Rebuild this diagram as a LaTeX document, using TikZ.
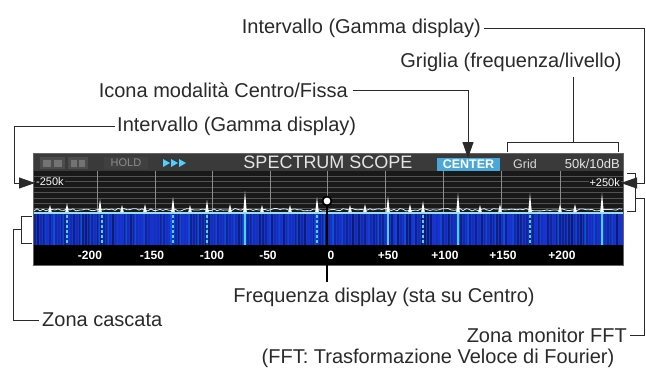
\documentclass[tikz,border=0pt]{standalone}
\usepackage{fontspec}
\setmainfont{Liberation Sans}
\newfontfamily\scrfont{Liberation Sans}
\usetikzlibrary{arrows.meta}
\definecolor{ink}{HTML}{2A2A2A}
\definecolor{hdr}{HTML}{3A3A3A}
\definecolor{wfblue}{HTML}{1834D0}
\definecolor{wfcyan}{HTML}{4FD0FF}
\definecolor{ctrblue}{HTML}{4AA8D8}
\tikzset{
  lbl/.style={inner sep=0pt, font=\fontsize{20}{22}\selectfont, text=ink},
  conn/.style={draw=ink, line width=0.9pt},
  arr/.style={conn, -{Triangle[length=16pt,width=11pt]}},
  scl/.style={inner sep=0pt, text=white, font=\scrfont\bfseries\fontsize{12}{13}\selectfont},
  tiny/.style={inner sep=0pt, font=\scrfont\fontsize{11}{12}\selectfont},
  grdh/.style={draw=white!32!black, line width=0.5pt},
  grdv/.style={draw=white!55!black, line width=0.5pt}
}
\begin{document}
\begin{tikzpicture}[x=1pt,y=-1pt]
\useasboundingbox (0,0) rectangle (646,370);
\fill[white] (0,0) rectangle (646,370);

% ---------- screen ----------
\fill[black!90] (33,153) rectangle (623,265);
\fill[hdr] (33,153) rectangle (623,171);
\draw[white!45!black, line width=0.8pt] (33,153.5) -- (623,153.5);
% header icons
\fill[white!30!black] (40,157) rectangle (65,169);
\fill[white!45!black] (43,160) rectangle (51,167);
\fill[white!45!black] (54,160) rectangle (62,167);
\fill[white!30!black] (68,157) rectangle (88,169);
\fill[white!45!black] (71,160) rectangle (77,167);
\fill[white!45!black] (79,160) rectangle (85,167);
\fill[white!25!black] (104,157) rectangle (148,169);
\node[tiny, text=white!55!black] (hold) at (126,163) {HOLD};
\foreach \x in {163,171,179}{\fill[wfcyan] (\x,159) -- (\x+7,163) -- (\x,167) -- cycle;}
\node[inner sep=0pt, text=white!90!black, font=\scrfont\fontsize{18}{19}\selectfont] (title) at (328,162.5) {SPECTRUM SCOPE};
\fill[ctrblue] (437,158) rectangle (500,171);
\node[inner sep=0pt, text=white, font=\scrfont\bfseries\fontsize{12.5}{13}\selectfont] (ctr) at (468.5,164.5) {CENTER};
\node[inner sep=0pt, text=white!85!black, font=\scrfont\fontsize{12.5}{13}\selectfont] (grid) at (525,164) {Grid};
\node[inner sep=0pt, text=white!90!black, font=\scrfont\fontsize{13}{14}\selectfont, anchor=east] (span) at (620,164) {50k/10dB};

% grid area
\foreach \y in {176,181.5,187,192.5,198,203.5,208.5}{\draw[grdh] (33,\y) -- (623,\y);}
\foreach \x in {97,155,212,270,327,385,443,501,560}{\draw[grdv] (\x,171) -- (\x,212);}
\node[tiny, text=white, anchor=west, fill=black!90, inner xsep=1pt] (lowk) at (35,182) {-250k};
\node[tiny, text=white, anchor=east, fill=black!90, inner xsep=1pt] (highk) at (621,183) {+250k};

% spectrum trace
\pgfmathsetseed{5}
\draw[white!85!cyan, line width=0.8pt] (34,211) \foreach \x in {37,40,...,622}{ -- (\x,{211-2.5*rnd}) };
\foreach \x/\t in {50/205,67/203,100/199,122/205,145/204,173/197,190/205,207/200,230/204,245/191,262/205,290/205,317/197,350/205,365/204,388/196,410/204,423/201,458/193,480/205,500/204,530/193,560/204,575/204,602/193}{
  \fill[white] (\x-1.8,212) -- (\x,\t) -- (\x+1.8,212) -- cycle;}

% waterfall
\fill[wfblue] (33,213) rectangle (623,245);
\pgfmathsetseed{11}
\foreach \x in {34,37,...,620}{\pgfmathsetmacro\op{0.5*rnd}\fill[black,opacity=\op] (\x,213) rectangle (\x+1.6,245);}
\pgfmathsetseed{23}
\foreach \x in {35,44,...,615}{\pgfmathsetmacro\op{0.4*rnd}\fill[blue!50!cyan,opacity=\op] (\x,213) rectangle (\x+1.5,245);}
\draw[white!60!cyan, line width=1.4pt] (33,213) -- (623,213);
\foreach \x in {245,388,458,602}{\draw[wfcyan, line width=1.6pt] (\x,214) -- (\x,245);}
\foreach \x in {67,102,173,207,317,423,530}{\draw[wfcyan, line width=1.4pt, dash pattern=on 3pt off 2pt] (\x,215) -- (\x,245);}

% scale bar
\fill[black] (33,245) rectangle (623,265);
\foreach \x/\t/\n in {90/-200/a,152/-150/b,212/-100/c,268/-50/d,331/0/e,388/+50/f,445/+100/g,503/+150/h,562/+200/i}{
  \node[scl] (s\n) at (\x,255) {\t};}
\draw[white!40!black, line width=0.6pt] (33,153) rectangle (623,265);

% ---------- labels ----------
\node[lbl, anchor=east] (int1) at (481,28) {Intervallo (Gamma display)};
\node[lbl] (grig) at (511,62) {Griglia (frequenza/livello)};
\node[lbl, anchor=east] (icona) at (348,90) {Icona modalità Centro/Fissa};
\node[lbl, anchor=west] (int2) at (117,126) {Intervallo (Gamma display)};
\node[lbl] (freq) at (384,297) {Frequenza display (sta su Centro)};
\node[lbl, anchor=west] (casc) at (42,320) {Zona cascata};
\node[lbl, anchor=east] (fft) at (627,335) {Zona monitor FFT};
\node[lbl] (fftx) at (438,358) {(FFT: Trasformazione Veloce di Fourier)};

% ---------- connectors ----------
% top Intervallo -> +250k
\coordinate (r1) at (644,28);
\coordinate (r1b) at (644,183);
\coordinate (r1t) at (621,183);
\draw[arr] ([xshift=3pt]int1.east) -- (r1) -- (r1b) -- (r1t);
% Griglia bracket
\coordinate (gl) at (507,152);
\coordinate (gr) at (618,152);
\coordinate (gm) at (573,142);
\coordinate (gt) at (573,77);
\draw[conn] (gl) -- (507,142) -- (618,142) -- (gr);
\draw[conn] (gm) -- (gt);
% Icona -> CENTER
\coordinate (ic) at (468,90);
\coordinate (ict) at (468,158);
\draw[arr] ([xshift=5pt]icona.east) -- (ic) -- (ict);
% lower Intervallo -> -250k
\coordinate (l1) at (14,126);
\coordinate (l1b) at (14,183);
\coordinate (l1t) at (35,183);
\draw[arr] ([xshift=-2pt]int2.west) -- (l1) -- (l1b) -- (l1t);
% waterfall bracket -> Zona cascata
\coordinate (wt) at (32,216);
\coordinate (wb) at (32,243);
\draw[conn] (wt) -- (21,216) -- (21,243) -- (wb);
\coordinate (wm) at (21,229);
\coordinate (wd) at (13,320);
\draw[conn] (wm) -- (13,229) -- (wd) -- ([xshift=-3pt]casc.west);
% FFT bracket -> Zona monitor FFT
\coordinate (ft) at (627,173);
\coordinate (fb) at (627,211);
\draw[conn] (ft) -- (635,173) -- (635,211) -- (fb);
\coordinate (fm) at (635,198);
\coordinate (fd) at (644,335);
\draw[conn] (fm) -- (644,198) -- (fd) -- ([xshift=3pt]fft.east);
% centre marker -> Frequenza
\node[circle, draw=black, fill=white, line width=1.8pt, inner sep=0pt, minimum size=9pt] (mk) at (327,201) {};
\coordinate (fq) at (327,282);
\draw[draw=black, line width=1.3pt] (mk.south) -- (fq);
\end{tikzpicture}
\end{document}
